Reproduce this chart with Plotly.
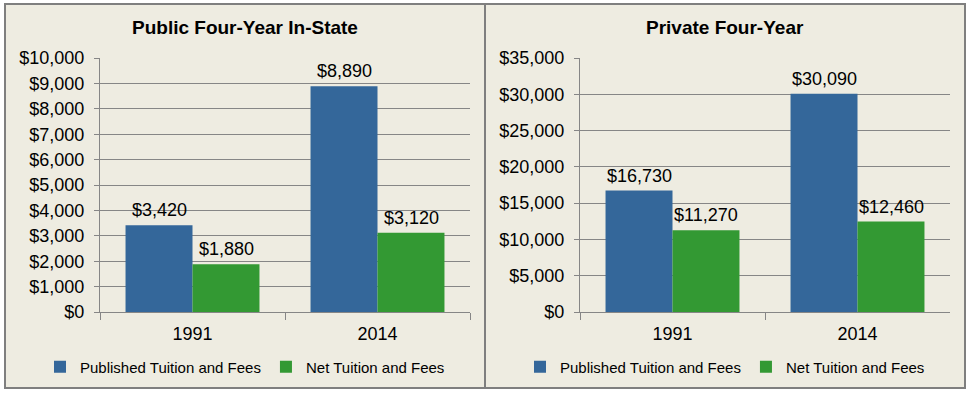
import plotly.graph_objects as go
from plotly.subplots import make_subplots

years = ["1991", "2014"]
public_published = [3420, 8890]
public_net = [1880, 3120]
private_published = [16730, 30090]
private_net = [11270, 12460]
panel_titles = ["Public Four-Year In-State", "Private Four-Year"]
series_names = ["Published Tuition and Fees", "Net Tuition and Fees"]

BLUE = "#34679A"
GREEN = "#339933"
BEIGE = "#EEECE1"
GRAY = "#868686"
FONT = "Liberation Sans, Arial, sans-serif"
W, H = 971, 393

fig = make_subplots(rows=1, cols=2)

panels = [(public_published, public_net), (private_published, private_net)]
for i, (pub, net) in enumerate(panels):
    col = i + 1
    leg = "legend" if i == 0 else "legend2"
    fig.add_trace(go.Bar(x=years, y=pub, name=series_names[0], marker_color=BLUE,
                         marker_line_width=0, legend=leg), row=1, col=col)
    fig.add_trace(go.Bar(x=years, y=net, name=series_names[1], marker_color=GREEN,
                         marker_line_width=0, legend=leg), row=1, col=col)
    xref = "x" if i == 0 else "x2"
    yref = "y" if i == 0 else "y2"
    for vals, shift in ((pub, -33.5), (net, 33.5)):
        for k, v in enumerate(vals):
            fig.add_annotation(x=k, y=v, xref=xref, yref=yref, text=f"${v:,}",
                               showarrow=False, xshift=shift, yshift=3, yanchor="bottom",
                               font=dict(family=FONT, size=18, color="black"))

# panel boxes
for x0, x1 in ((5, 485), (485, 965)):
    fig.add_shape(type="rect", xref="paper", yref="paper",
                  x0=x0 / W, x1=x1 / W, y0=1 - 388 / H, y1=1 - 4 / H,
                  fillcolor=BEIGE, line=dict(color="#7F7F7F", width=2), layer="below")

# titles
for t, xc in zip(panel_titles, (245, 725)):
    fig.add_annotation(text=f"<b>{t}</b>", x=xc / W, y=1 - 28 / H, xref="paper", yref="paper",
                       showarrow=False, xanchor="center", yanchor="middle",
                       font=dict(family=FONT, size=19, color="black"))

xdoms = [[100 / W, 470 / W], [580 / W, 950 / W]]
ydom = [1 - 312 / H, 1 - 58 / H]
yranges = [[0, 10000], [0, 35000]]
dticks = [1000, 5000]
for i in range(2):
    fig.update_xaxes(type="category", domain=xdoms[i], range=[-0.5, len(years) - 0.5],
                     showline=True, linecolor=GRAY, linewidth=1,
                     ticks="outside", tickson="boundaries", ticklen=7, tickcolor=GRAY,
                     ticklabelstandoff=5, showgrid=False, automargin=False, tickangle=0,
                     tickfont=dict(family=FONT, size=18, color="black"), row=1, col=i + 1)
    fig.update_yaxes(domain=ydom, range=yranges[i], dtick=dticks[i], tickprefix="$",
                     tickformat=",d", showline=True, linecolor=GRAY, linewidth=1,
                     ticks="outside", ticklen=5, tickcolor=GRAY, gridcolor=GRAY, gridwidth=1,
                     ticklabelstandoff=6, zeroline=False, automargin=False,
                     tickfont=dict(family=FONT, size=18, color="black"), row=1, col=i + 1)

legend_common = dict(orientation="h", xanchor="center", yanchor="middle", y=1 - 367 / H,
                     bgcolor="rgba(0,0,0,0)", font=dict(family=FONT, size=15, color="black"),
                     itemwidth=30, traceorder="normal")
fig.update_layout(
    width=W, height=H, autosize=False,
    margin=dict(l=0, r=0, t=0, b=0, pad=0, autoexpand=False),
    paper_bgcolor="white", plot_bgcolor="white",
    barmode="group", bargap=0.276, bargroupgap=0,
    legend=dict(x=245 / W, **legend_common),
    legend2=dict(x=725 / W, **legend_common),
    showlegend=True,
)

fig.write_html("out.html", config={"displayModeBar": False},
               post_script="document.body.style.margin='0';")
